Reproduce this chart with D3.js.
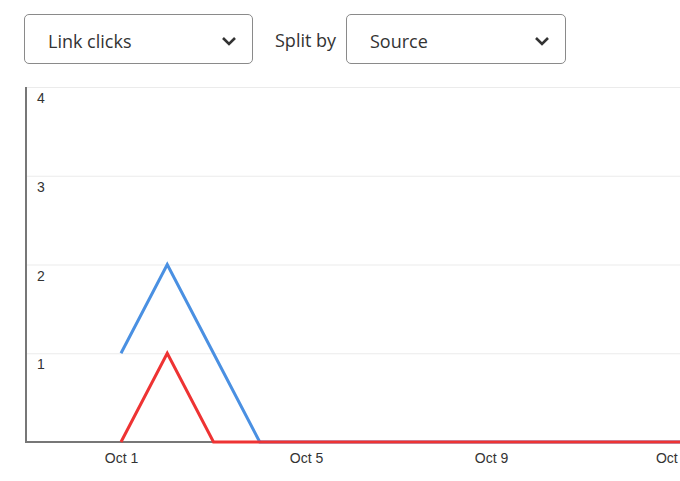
<!DOCTYPE html>
<html>
<head>
<meta charset="utf-8">
<script src="https://cdn.jsdelivr.net/npm/d3@7"></script>
<style>
  body { margin: 0; background: #fff; overflow: hidden; }
  #wrap { position: relative; width: 680px; height: 481px; }
  .pick {
    position: absolute; top: 14px; height: 48px; box-sizing: content-box;
    border: 1px solid #8a8a8a; border-radius: 5px; background: #fff;
    font-family: "Open Sans", "Noto Sans", sans-serif; font-size: 18px; color: #333;
  }
  .pick span { position: absolute; left: 23px; top: 14px; line-height: 24px; }
  .pick svg { position: absolute; top: 20px; }
  .label {
    position: absolute; top: 28px; line-height: 24px;
    font-family: "Open Sans", "Noto Sans", sans-serif; font-size: 18px; color: #333;
  }
  #chart { position: absolute; left: 0; top: 0; }
</style>
</head>
<body>
<div id="wrap"></div>
<script>
const metric = "Link clicks";
const splitLabel = "Split by";
const splitValue = "Source";

const dates = ["2023-10-01", "2023-10-02", "2023-10-03", "2023-10-04", "2023-10-05",
    "2023-10-06", "2023-10-07", "2023-10-08", "2023-10-09", "2023-10-10",
    "2023-10-11", "2023-10-12", "2023-10-13", "2023-10-14"];
const blueValues = [1, 2, 1, 0, 0, 0, 0, 0, 0, 0, 0, 0, 0, 0];
const redValues = [0, 1, 0, 0, 0, 0, 0, 0, 0, 0, 0, 0, 0, 0];
const yTicks = [1, 2, 3, 4];

const parse = d3.timeParse("%Y-%m-%d");
const wrap = d3.select("#wrap");

// dropdowns
function dropdown(leftPos, width, text) {
    const box = wrap.append("div").attr("class", "pick")
        .style("left", leftPos + "px").style("width", width + "px");
    box.append("span").text(text);
    box.append("svg").attr("width", 16).attr("height", 12)
        .style("left", (width - 31) + "px")
        .append("path")
        .attr("d", "M2,3 L8,9 L14,3")
        .attr("fill", "none")
        .attr("stroke", "#333")
        .attr("stroke-width", 2.6);
}
dropdown(24, 227, metric);
wrap.append("div").attr("class", "label").style("left", "275px").text(splitLabel);
dropdown(346, 218, splitValue);

// chart
const svgW = 680, svgH = 481;
const plotLeft = 25, plotTop = 87, plotBottom = 442;

const svg = wrap.append("svg").attr("id", "chart")
    .attr("width", svgW).attr("height", svgH);

const x = d3.scaleTime()
    .domain([parse("2023-09-29"), parse("2023-10-15")])
    .range([28.5, 28.5 + 16 * 46.25]);
const y = d3.scaleLinear().domain([0, 4]).range([plotBottom, plotTop]);

svg.append("g").selectAll("line")
    .data(yTicks)
    .enter()
    .append("line")
    .attr("x1", plotLeft).attr("x2", svgW)
    .attr("y1", d => y(d) + 0.5).attr("y2", d => y(d) + 0.5)
    .attr("stroke", "#ebebeb");

svg.append("g").selectAll("text")
    .data(yTicks)
    .enter()
    .append("text")
    .attr("x", 37)
    .attr("y", d => y(d) + 16)
    .text(d => d)
    .attr("font-family", "Liberation Sans, Arial, sans-serif")
    .attr("font-size", 14)
    .attr("fill", "#333");

const xAxis = d3.axisBottom(x)
    .tickValues(["2023-10-01", "2023-10-05", "2023-10-09", "2023-10-13"].map(parse))
    .tickFormat(d3.timeFormat("Oct %-d"))
    .tickSize(0)
    .tickPadding(11);

const gx = svg.append("g").attr("transform", `translate(0,${plotBottom})`).call(xAxis);
gx.select(".domain").remove();
gx.selectAll("text")
    .attr("font-family", "Liberation Sans, Arial, sans-serif")
    .attr("font-size", 14)
    .attr("fill", "#333");

// axis lines
svg.append("line")
    .attr("x1", plotLeft).attr("x2", svgW)
    .attr("y1", plotBottom).attr("y2", plotBottom)
    .attr("stroke", "#777").attr("stroke-width", 2);
svg.append("line")
    .attr("x1", plotLeft + 1).attr("x2", plotLeft + 1)
    .attr("y1", plotTop).attr("y2", plotBottom)
    .attr("stroke", "#777").attr("stroke-width", 2);

const line = d3.line()
    .x((d, i) => x(parse(dates[i])))
    .y(d => y(d));

svg.append("path")
    .datum(blueValues)
    .attr("d", line)
    .attr("fill", "none")
    .attr("stroke", "#4a90e2")
    .attr("stroke-width", 3);

svg.append("path")
    .datum(redValues)
    .attr("d", line)
    .attr("fill", "none")
    .attr("stroke", "#ee3333")
    .attr("stroke-width", 3);
</script>
</body>
</html>
